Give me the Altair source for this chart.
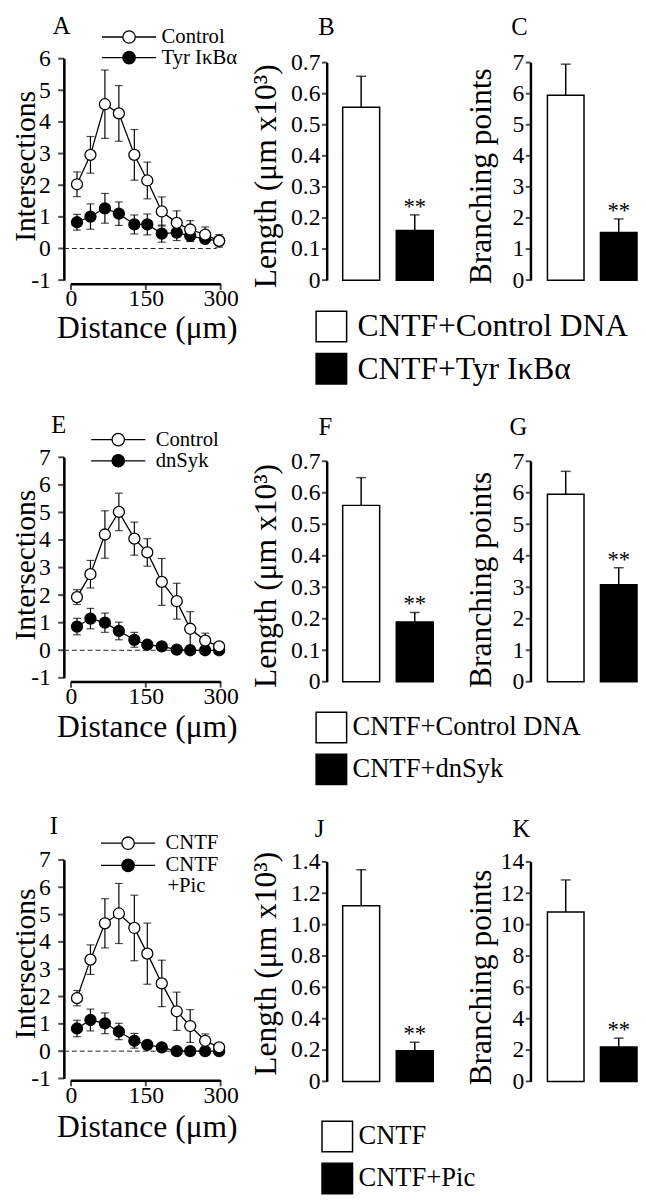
import altair as alt
import pandas as pd

FONT = "Liberation Serif"
DX, DY = 6, 6          # reference px -> chart px (page margin compensation)
W, H = 640, 1192
AXW = 2.0              # axis line width

# ---------------- data ----------------
distance = [12, 39, 68, 96, 127, 153, 182, 212, 239, 269, 297]

a_names = ["Control", "Tyr IκBα"]
a_ctrl = [2.03, 2.96, 4.56, 4.27, 2.96, 2.15, 1.17, 0.81, 0.60, 0.44, 0.24]
a_ctrl_err = [0.39, 0.58, 1.08, 0.88, 0.80, 0.58, 0.46, 0.38, 0.28, 0.24, 0.20]
a_trt = [0.83, 1.01, 1.27, 1.10, 0.76, 0.76, 0.47, 0.50, 0.40, 0.30, 0.24]
a_trt_err = [0.25, 0.40, 0.47, 0.37, 0.30, 0.33, 0.27, 0.25, 0.18, 0.12, 0.10]

e_names = ["Control", "dnSyk"]
e_ctrl = [1.93, 2.76, 4.20, 5.02, 4.05, 3.55, 2.48, 1.78, 0.78, 0.35, 0.14]
e_ctrl_err = [0.27, 0.50, 0.86, 0.68, 0.60, 0.50, 0.85, 0.65, 0.62, 0.27, 0.10]
e_trt = [0.86, 1.15, 1.00, 0.70, 0.38, 0.20, 0.14, 0.02, 0.0, 0.0, 0.0]
e_trt_err = [0.30, 0.37, 0.35, 0.32, 0.27, 0.10, 0.08, 0.03, 0.02, 0.02, 0.02]

i_names = ["CNTF", "CNTF+Pic"]
i_ctrl = [1.94, 3.35, 4.68, 5.04, 4.51, 3.57, 2.48, 1.46, 0.92, 0.38, 0.14]
i_ctrl_err = [0.28, 0.54, 0.90, 1.10, 1.20, 1.12, 0.85, 0.70, 0.60, 0.25, 0.10]
i_trt = [0.83, 1.14, 1.02, 0.72, 0.38, 0.23, 0.14, 0.0, 0.0, 0.0, 0.0]
i_trt_err = [0.30, 0.40, 0.38, 0.30, 0.27, 0.10, 0.08, 0.02, 0.02, 0.02, 0.02]

row1_groups = ["CNTF+Control DNA", "CNTF+Tyr IκBα"]
row2_groups = ["CNTF+Control DNA", "CNTF+dnSyk"]
row3_groups = ["CNTF", "CNTF+Pic"]

b_len = [0.556, 0.16]
b_len_err = [0.10, 0.05]
c_branch = [5.95, 1.53]
c_branch_err = [1.0, 0.44]
f_len = [0.56, 0.19]
f_len_err = [0.088, 0.03]
g_branch = [5.95, 3.08]
g_branch_err = [0.73, 0.54]
j_len = [1.12, 0.195]
j_len_err = [0.23, 0.055]
k_branch = [10.8, 2.19]
k_branch_err = [2.05, 0.57]
signif = ["", "**"]

len_ticks_07 = [0, 0.1, 0.2, 0.3, 0.4, 0.5, 0.6, 0.7]
len_ticks_14 = [0, 0.2, 0.4, 0.6, 0.8, 1.0, 1.2, 1.4]
branch_ticks_7 = [0, 1, 2, 3, 4, 5, 6, 7]
branch_ticks_14 = [0, 2, 4, 6, 8, 10, 12, 14]
dist_ticks = [0, 150, 300]

LEN_TITLE = "Length (μm x10³)"
BR_TITLE = "Branching points"


def cx(v):
    return v - DX


def cy(v):
    return v - DY


# line + circle legend glyph (unit = 10 px with symbolSize 400)
LINE_SYMBOL = ("M-2.75,0L-0.63,0M0.63,0L2.75,0M-0.63,0A0.63,0.63,0,1,1,0.63,0"
               "A0.63,0.63,0,1,1,-0.63,0Z")
INT_EXPR = "datum.value < 0 ? '-' + abs(datum.value) : '' + datum.value"
DEC_EXPR = "datum.value == 0 ? '0' : format(datum.value, '.1f')"
ONE = pd.DataFrame({"k": [0]})
AX_STYLE = dict(domain=True, domainColor="#000000", domainWidth=AXW, ticks=False, grid=False)


def letter_axis(letter, lx, ly):
    return alt.Axis(orient="top", offset=0, domain=False, ticks=False, labels=False,
                    grid=False, title=letter, titleX=cx(lx), titleY=cy(ly), titleFontSize=25,
                    titleAlign="center", titleBaseline="alphabetic", titleAngle=0)


def line_panel(letter, names, ctrl, ctrl_err, trt, trt_err, ymax, g, leg):
    n = len(distance)
    df = pd.DataFrame({
        "distance": distance + distance,
        "value": trt + ctrl,
        "err": trt_err + ctrl_err,
        "series": [names[1]] * n + [names[0]] * n,
    })
    df["lo"] = df["value"] - df["err"]
    df["hi"] = df["value"] + df["err"]
    yticks = list(range(-1, ymax + 1))
    xs = alt.Scale(domain=[0, 300], range=[cx(70), cx(222)], nice=False, zero=False)
    ys = alt.Scale(domain=[-1, ymax], range=[cy(g["ybot"]), cy(g["ytop"])], nice=False, zero=False)
    xq = alt.X("distance:Q", scale=xs)
    base = alt.Chart(df)
    x_gap = g["xaxis"] - g["ybot"]      # x axis drawn slightly below -1
    y_gap = 63 - 70                     # y axis drawn slightly left of 0

    zero = alt.Chart(pd.DataFrame({"level": [0]})).mark_rule(
        strokeDash=[5, 3], color="#222", strokeWidth=1).encode(
        x=alt.XDatum(-14, type="quantitative", scale=xs,
                     axis=letter_axis(letter, g["lx"], g["ly"])),
        x2=alt.X2Datum(292),
        y=alt.Y("level:Q", scale=ys),
    )
    # axis lines and ticks
    y_line = alt.Chart(ONE).mark_rule(color="#000000", strokeWidth=AXW, xOffset=y_gap).encode(
        x=alt.XDatum(0, type="quantitative", scale=xs),
        y=alt.YDatum(-1, type="quantitative", scale=ys), y2=alt.Y2Datum(ymax))
    y_tk = alt.Chart(pd.DataFrame({"t": yticks})).mark_tick(
        orient="horizontal", size=6, thickness=AXW, color="#000000", xOffset=y_gap - 3).encode(
        x=alt.XDatum(0, type="quantitative", scale=xs), y=alt.Y("t:Q", scale=ys))
    x_line = alt.Chart(ONE).mark_rule(color="#000000", strokeWidth=AXW, yOffset=x_gap).encode(
        x=alt.XDatum(0, type="quantitative", scale=xs), x2=alt.X2Datum(300),
        y=alt.YDatum(-1, type="quantitative", scale=ys))
    x_tk = alt.Chart(pd.DataFrame({"t": dist_ticks})).mark_tick(
        orient="vertical", size=6, thickness=AXW, color="#000000", yOffset=x_gap + 3).encode(
        x=alt.X("t:Q", scale=xs), y=alt.YDatum(-1, type="quantitative", scale=ys))

    err = base.mark_rule(color="black", strokeWidth=1.2).encode(
        x=xq, y=alt.Y("lo:Q", scale=ys), y2="hi:Q")
    cap_hi = base.mark_tick(orient="horizontal", size=8, thickness=1.2, color="black").encode(
        x=xq, y=alt.Y("hi:Q", scale=ys))
    cap_lo = base.mark_tick(orient="horizontal", size=8, thickness=1.2, color="black").encode(
        x=xq, y=alt.Y("lo:Q", scale=ys))
    line = base.mark_line(color="black", strokeWidth=1.3).encode(
        x=xq, y=alt.Y("value:Q", scale=ys), detail="series:N")
    pts = base.mark_point(shape="circle", filled=True, size=125, stroke="black",
                          strokeWidth=1.3, opacity=1).encode(
        x=alt.X("distance:Q", scale=xs,
                axis=alt.Axis(orient="bottom", offset=cy(g["xaxis"]) - H, values=dist_ticks,
                              labelPadding=3, title="Distance (μm)", titleX=cx(147),
                              titleY=g["xt"], titleBaseline="alphabetic", titleAlign="center",
                              **AX_STYLE)),
        y=alt.Y("value:Q", scale=ys,
                axis=alt.Axis(orient="left", offset=-cx(63), values=yticks, labelPadding=14,
                              labelExpr=INT_EXPR, title="Intersections", titleFontSize=30,
                              titleX=27 - cx(63), titleY=cy(g["tc"]), titleAngle=270,
                              titleBaseline="alphabetic", titleAlign="center", **AX_STYLE)),
        fill=alt.Fill("series:N", scale=alt.Scale(domain=names, range=["white", "black"]),
                      legend=leg),
    )
    data_layer = alt.layer(err, cap_hi, cap_lo, line, pts, y_line, y_tk, x_line, x_tk)
    return alt.layer(zero, data_layer).resolve_axis(x="independent")


def bar_panel(letter, groups, vals, errs, ymax, yvals, lexpr, ytitle, g, leg):
    df = pd.DataFrame({"group": groups, "value": vals, "err": errs, "mark": signif})
    df["hi"] = df["value"] + df["err"]
    pad = 0.31
    xs = alt.Scale(domain=groups, range=[cx(g["bx0"]), cx(g["bx1"])],
                   paddingInner=pad, paddingOuter=0)
    ys = alt.Scale(domain=[0, ymax], range=[cy(g["y0"]), cy(g["ytop"])], nice=False, zero=False)
    xn = alt.X("group:N", scale=xs)
    base = alt.Chart(df)
    band = (g["bx1"] - g["bx0"]) * (1 - pad) / (2 - pad)
    a_off = g["ax"] - (g["bx0"] + band / 2)      # axis sits left of the first bar

    y_line = alt.Chart(pd.DataFrame({"group": groups[:1]})).mark_rule(
        color="#000000", strokeWidth=AXW, xOffset=a_off).encode(
        x=xn, y=alt.YDatum(0, type="quantitative", scale=ys), y2=alt.Y2Datum(ymax))
    y_tk = alt.Chart(pd.DataFrame({"group": groups[:1] * len(yvals), "t": yvals})).mark_tick(
        orient="horizontal", size=5, thickness=AXW, color="#000000", xOffset=a_off - 2.5).encode(
        x=xn, y=alt.Y("t:Q", scale=ys))

    bars = base.mark_bar(stroke="black", strokeWidth=1.5).encode(
        x=alt.X("group:N", scale=xs, axis=letter_axis(letter, g["lx"], g["ly"])),
        y=alt.Y("value:Q", scale=ys,
                axis=alt.Axis(orient="left", offset=-cx(g["ax"]), values=yvals, labelExpr=lexpr,
                              labelPadding=7, title=ytitle, titleX=g["tb"] - g["ax"],
                              titleY=cy(g["tc"]), titleAngle=270, titleBaseline="alphabetic",
                              titleAlign="center", **AX_STYLE)),
        fill=alt.Fill("group:N", scale=alt.Scale(domain=groups, range=["white", "black"]),
                      legend=leg),
    )
    err = base.mark_rule(color="black", strokeWidth=1.5).encode(
        x=xn, y=alt.Y("value:Q", scale=ys), y2="hi:Q")
    cap = base.mark_tick(orient="horizontal", size=10, thickness=1.5, color="black").encode(
        x=xn, y=alt.Y("hi:Q", scale=ys))
    stars = base.mark_text(font=FONT, fontSize=23, baseline="alphabetic", dy=-1,
                           color="black").encode(
        x=xn, y=alt.Y("hi:Q", scale=ys), text="mark:N")
    return alt.layer(bars, err, cap, stars, y_line, y_tk)


def line_legend(lx, ly, lo, rp, **kw):
    return alt.Legend(orient="none", legendX=lx, legendY=ly, direction="vertical",
                      symbolType=LINE_SYMBOL, symbolSize=400, symbolStrokeColor="black",
                      symbolStrokeWidth=1.3, labelFont=FONT, labelFontSize=21,
                      labelColor="black", labelOffset=lo, rowPadding=rp, padding=0,
                      labelLimit=300, **kw)


def bar_legend(lx, ly, fs, lo, rp):
    return alt.Legend(orient="none", legendX=lx, legendY=ly, direction="vertical", title=None,
                      symbolType="square", symbolSize=961, symbolStrokeColor="black",
                      symbolStrokeWidth=1.5, labelFont=FONT,
                      labelFontSize=fs, labelColor="black", labelOffset=lo, rowPadding=rp,
                      padding=0, labelLimit=500)


panel_a = line_panel("A", a_names, a_ctrl, a_ctrl_err, a_trt, a_trt_err, 6,
                     dict(ytop=48, ybot=273, xaxis=277, xt=54, tc=157, lx=60, ly=22),
                     line_legend(112, 9, 22, 0, title=None))
panel_e = line_panel("E", e_names, e_ctrl, e_ctrl_err, e_trt, e_trt_err, 7,
                     dict(ytop=453, ybot=677, xaxis=681, xt=56, tc=562, lx=57, ly=428),
                     line_legend(101, 418, 27, 0.5, title=None))
panel_i = line_panel("I", i_names, i_ctrl, i_ctrl_err, i_trt, i_trt_err, 7,
                     dict(ytop=862, ybot=1084, xaxis=1086, xt=57, tc=967, lx=52, ly=835),
                     line_legend(111, 828, 27, 1.5, title="+Pic", titleOrient="bottom",
                                 titleAnchor="middle", titleAlign="left", titleFont=FONT,
                                 titleFontSize=21, titleFontWeight="normal",
                                 titleColor="black", titlePadding=0,
                                 labelExpr="replace(datum.label, '+Pic', '')"))

panel_b = bar_panel("B", row1_groups, b_len, b_len_err, 0.7, len_ticks_07, DEC_EXPR, LEN_TITLE,
                    dict(bx0=346, bx1=438, y0=273, ytop=52, ax=330, tb=278, tc=167, lx=329, ly=23),
                    bar_legend(312, 297.5, 32, 10, 6))
panel_c = bar_panel("C", row1_groups, c_branch, c_branch_err, 7, branch_ticks_7, INT_EXPR, BR_TITLE,
                    dict(bx0=554, bx1=645, y0=273, ytop=52, ax=537, tb=496, tc=167, lx=525, ly=23),
                    None)
panel_f = bar_panel("F", row2_groups, f_len, f_len_err, 0.7, len_ticks_07, DEC_EXPR, LEN_TITLE,
                    dict(bx0=346, bx1=438, y0=681, ytop=457, ax=330, tb=278, tc=573, lx=328, ly=430),
                    bar_legend(312, 705, 27, 5, 5.5))
panel_g = bar_panel("G", row2_groups, g_branch, g_branch_err, 7, branch_ticks_7, INT_EXPR, BR_TITLE,
                    dict(bx0=554, bx1=645, y0=681, ytop=457, ax=537, tb=496, tc=577, lx=524, ly=430),
                    None)
panel_j = bar_panel("J", row3_groups, j_len, j_len_err, 1.4, len_ticks_14, DEC_EXPR, LEN_TITLE,
                    dict(bx0=346, bx1=438, y0=1087, ytop=864, ax=330, tb=278, tc=967, lx=322, ly=838),
                    bar_legend(318, 1120.5, 27, 5, 5.5))
panel_k = bar_panel("K", row3_groups, k_branch, k_branch_err, 14, branch_ticks_14, INT_EXPR, BR_TITLE,
                    dict(bx0=554, bx1=645, y0=1087, ytop=864, ax=537, tb=496, tc=981, lx=527, ly=838),
                    None)

chart = alt.layer(
    panel_a, panel_b, panel_c, panel_e, panel_f, panel_g, panel_i, panel_j, panel_k
).resolve_scale(
    x="independent", y="independent", fill="independent"
).resolve_axis(
    x="independent", y="independent"
).resolve_legend(
    fill="independent"
).properties(
    width=W, height=H, autosize=alt.AutoSizeParams(type="none"), padding=0,
    background="white",
).configure_view(
    stroke=None
).configure_axis(
    grid=False, labelFont=FONT, labelFontSize=24, labelColor="black",
    labelFlush=False, titleFont=FONT, titleFontSize=32,
    titleFontWeight="normal", titleColor="black",
).configure_legend(
    labelFont=FONT, titleFont=FONT, labelColor="black",
)

chart.save("out.html", embed_options={"renderer": "svg", "actions": False})
